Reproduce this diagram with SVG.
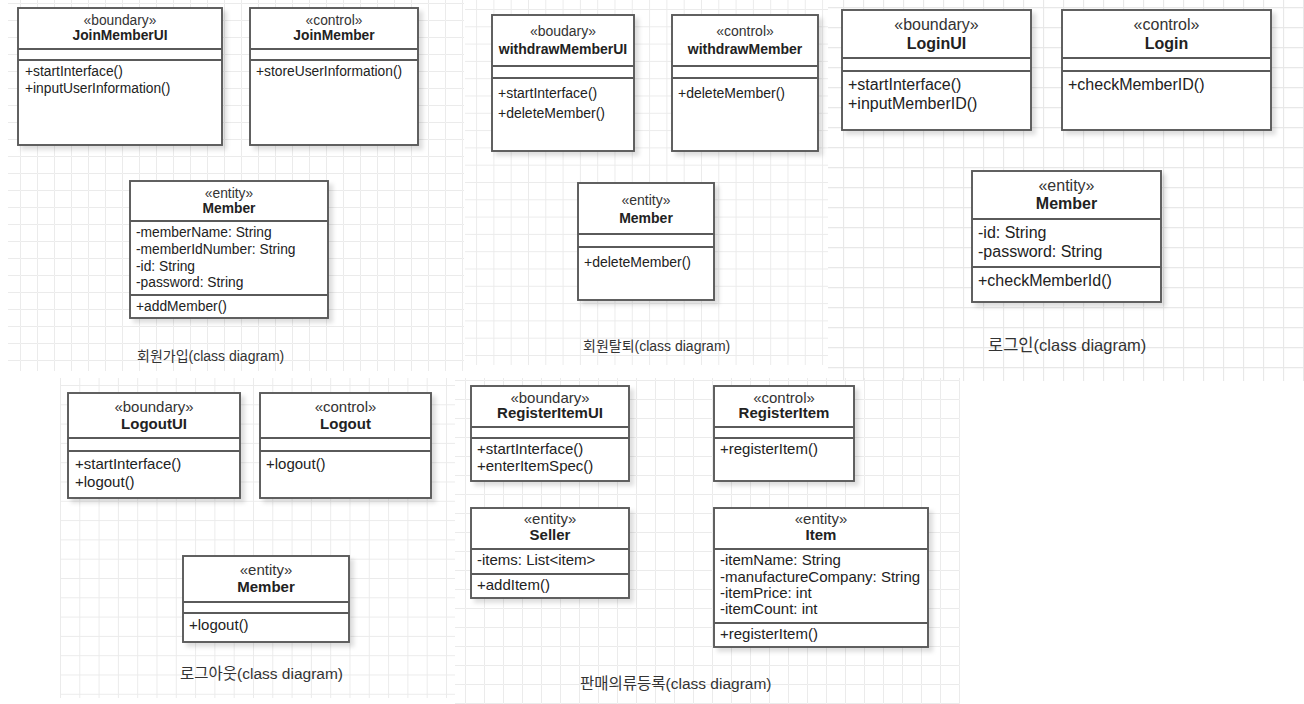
<svg xmlns="http://www.w3.org/2000/svg" width="1304" height="704" viewBox="0 0 1304 704">
<defs>
<pattern id="g1" patternUnits="userSpaceOnUse" width="17" height="17" x="3" y="3"><path d="M17 0.5H0.5V17" fill="none" stroke="#ebebeb" stroke-width="1"/></pattern>
<pattern id="g2" patternUnits="userSpaceOnUse" width="17.3" height="17.3" x="9" y="9"><path d="M17.3 0.5H0.5V17.3" fill="none" stroke="#ebebeb" stroke-width="1"/></pattern>
<pattern id="g3" patternUnits="userSpaceOnUse" width="20" height="20" x="3" y="7"><path d="M20 0.5H0.5V20" fill="none" stroke="#e8e8e8" stroke-width="1.3"/></pattern>
<pattern id="g4" patternUnits="userSpaceOnUse" width="19.3" height="19.3" x="60" y="385"><path d="M19.3 0.5H0.5V19.3" fill="none" stroke="#ebebeb" stroke-width="1"/></pattern>
<pattern id="g5" patternUnits="userSpaceOnUse" width="19" height="19" x="465" y="380"><path d="M19 0.5H0.5V19" fill="none" stroke="#ebebeb" stroke-width="1"/></pattern>
<filter id="sh" x="-10%" y="-10%" width="130%" height="130%"><feDropShadow dx="4" dy="4" stdDeviation="2" flood-color="#000" flood-opacity="0.13"/></filter>
</defs>
<style>
.box{fill:#fff;stroke:#5a5a5a;stroke-width:1.9;filter:url(#sh)}
.ln{stroke:#5a5a5a;stroke-width:1.9}
text{font-family:"Liberation Sans",Arial,sans-serif;fill:#222}
.st{fill:#333}
.nm{font-weight:bold}
.mid{text-anchor:middle}
.cap{font-family:"Liberation Sans","Noto Sans CJK KR",sans-serif;fill:#333}
.p1{font-size:13.8px}
.p2{font-size:14px}
.p3{font-size:16px}
.p4{font-size:15px}
.p5{font-size:15px}
</style>
<rect width="1304" height="704" fill="#fff"/>
<!-- panel backgrounds -->
<rect x="8" y="0" width="456" height="371" fill="url(#g1)"/>
<rect x="465" y="0" width="363" height="365" fill="url(#g2)"/>
<rect x="828" y="0" width="476" height="381" fill="url(#g3)"/>
<rect x="60" y="378" width="395" height="320" fill="url(#g4)"/>
<rect x="455" y="378" width="505" height="326" fill="url(#g5)"/>

<!-- Panel 1 -->
<g id="JoinMemberUI" class="p1">
<rect class="box" x="18" y="8" width="204" height="137"/>
<line class="ln" x1="18" y1="49" x2="222" y2="49"/><line class="ln" x1="18" y1="60" x2="222" y2="60"/>
<text class="st mid" x="120" y="25">«boundary»</text>
<text class="nm mid" x="120" y="40">JoinMemberUI</text>
<text x="25" y="76">+startInterface()</text>
<text x="25" y="93">+inputUserInformation()</text>
</g>
<g id="JoinMember" class="p1">
<rect class="box" x="250" y="8" width="168" height="137"/>
<line class="ln" x1="250" y1="49" x2="418" y2="49"/><line class="ln" x1="250" y1="60" x2="418" y2="60"/>
<text class="st mid" x="334" y="25">«control»</text>
<text class="nm mid" x="334" y="40">JoinMember</text>
<text x="256" y="76">+storeUserInformation()</text>
</g>
<g id="Member1" class="p1">
<rect class="box" x="130" y="181" width="198" height="137"/>
<line class="ln" x1="130" y1="221" x2="328" y2="221"/><line class="ln" x1="130" y1="295" x2="328" y2="295"/>
<text class="st mid" x="229" y="198">«entity»</text>
<text class="nm mid" x="229" y="213">Member</text>
<text x="136" y="237">-memberName: String</text>
<text x="136" y="254">-memberIdNumber: String</text>
<text x="136" y="271">-id: String</text>
<text x="136" y="287">-password: String</text>
<text x="136" y="311">+addMember()</text>
</g>
<text class="cap" x="137" y="361" font-size="14">회원가입(class diagram)</text>

<!-- Panel 2 -->
<g id="withdrawMemberUI" class="p2">
<rect class="box" x="492" y="15" width="142" height="136"/>
<line class="ln" x1="492" y1="66" x2="634" y2="66"/><line class="ln" x1="492" y1="78" x2="634" y2="78"/>
<text class="st mid" x="563" y="36">«boudary»</text>
<text class="nm mid" x="563" y="54">withdrawMemberUI</text>
<text x="498" y="98">+startInterface()</text>
<text x="498" y="118">+deleteMember()</text>
</g>
<g id="withdrawMember" class="p2">
<rect class="box" x="672" y="15" width="146" height="136"/>
<line class="ln" x1="672" y1="66" x2="818" y2="66"/><line class="ln" x1="672" y1="78" x2="818" y2="78"/>
<text class="st mid" x="745" y="36">«control»</text>
<text class="nm mid" x="745" y="54">withdrawMember</text>
<text x="678" y="98">+deleteMember()</text>
</g>
<g id="Member2" class="p2">
<rect class="box" x="578" y="183" width="136" height="117"/>
<line class="ln" x1="578" y1="234" x2="714" y2="234"/><line class="ln" x1="578" y1="247" x2="714" y2="247"/>
<text class="st mid" x="646" y="205">«entity»</text>
<text class="nm mid" x="646" y="223">Member</text>
<text x="584" y="267">+deleteMember()</text>
</g>
<text class="cap" x="583" y="351" font-size="14">회원탈퇴(class diagram)</text>

<!-- Panel 3 -->
<g id="LoginUI" class="p3">
<rect class="box" x="842" y="10" width="189" height="120"/>
<line class="ln" x1="842" y1="58" x2="1031" y2="58"/><line class="ln" x1="842" y1="71" x2="1031" y2="71"/>
<text class="st mid" x="936.5" y="30">«boundary»</text>
<text class="nm mid" x="936.5" y="49">LoginUI</text>
<text x="848" y="90">+startInterface()</text>
<text x="848" y="109">+inputMemberID()</text>
</g>
<g id="Login" class="p3">
<rect class="box" x="1062" y="10" width="209" height="120"/>
<line class="ln" x1="1062" y1="58" x2="1271" y2="58"/><line class="ln" x1="1062" y1="71" x2="1271" y2="71"/>
<text class="st mid" x="1166.5" y="30">«control»</text>
<text class="nm mid" x="1166.5" y="49">Login</text>
<text x="1068" y="90">+checkMemberID()</text>
</g>
<g id="Member3" class="p3">
<rect class="box" x="972" y="171" width="189" height="131"/>
<line class="ln" x1="972" y1="219" x2="1161" y2="219"/><line class="ln" x1="972" y1="267" x2="1161" y2="267"/>
<text class="st mid" x="1066.5" y="191">«entity»</text>
<text class="nm mid" x="1066.5" y="209">Member</text>
<text x="978" y="238">-id: String</text>
<text x="978" y="257">-password: String</text>
<text x="978" y="286">+checkMemberId()</text>
</g>
<text class="cap" x="988" y="351" font-size="16.5">로그인(class diagram)</text>

<!-- Panel 4 -->
<g id="LogoutUI" class="p4">
<rect class="box" x="68" y="393" width="172" height="105"/>
<line class="ln" x1="68" y1="438" x2="240" y2="438"/><line class="ln" x1="68" y1="451" x2="240" y2="451"/>
<text class="st mid" x="154" y="412">«boundary»</text>
<text class="nm mid" x="154" y="429">LogoutUI</text>
<text x="75" y="469">+startInterface()</text>
<text x="75" y="487">+logout()</text>
</g>
<g id="Logout" class="p4">
<rect class="box" x="260" y="393" width="171" height="105"/>
<line class="ln" x1="260" y1="438" x2="431" y2="438"/><line class="ln" x1="260" y1="451" x2="431" y2="451"/>
<text class="st mid" x="345.5" y="412">«control»</text>
<text class="nm mid" x="345.5" y="429">Logout</text>
<text x="266" y="469">+logout()</text>
</g>
<g id="Member4" class="p4">
<rect class="box" x="183" y="556" width="166" height="86"/>
<line class="ln" x1="183" y1="602" x2="349" y2="602"/><line class="ln" x1="183" y1="613" x2="349" y2="613"/>
<text class="st mid" x="266" y="575">«entity»</text>
<text class="nm mid" x="266" y="592">Member</text>
<text x="189" y="630">+logout()</text>
</g>
<text class="cap" x="180" y="679" font-size="15.5">로그아웃(class diagram)</text>

<!-- Panel 5 -->
<g id="RegisterItemUI" class="p5">
<rect class="box" x="471" y="386" width="158" height="95"/>
<line class="ln" x1="471" y1="427" x2="629" y2="427"/><line class="ln" x1="471" y1="438" x2="629" y2="438"/>
<text class="st mid" x="550" y="403">«boundary»</text>
<text class="nm mid" x="550" y="418">RegisterItemUI</text>
<text x="477" y="454">+startInterface()</text>
<text x="477" y="471">+enterItemSpec()</text>
</g>
<g id="RegisterItem" class="p5">
<rect class="box" x="714" y="386" width="140" height="95"/>
<line class="ln" x1="714" y1="427" x2="854" y2="427"/><line class="ln" x1="714" y1="438" x2="854" y2="438"/>
<text class="st mid" x="784" y="403">«control»</text>
<text class="nm mid" x="784" y="418">RegisterItem</text>
<text x="720" y="454">+registerItem()</text>
</g>
<g id="Seller" class="p5">
<rect class="box" x="471" y="508" width="158" height="90"/>
<line class="ln" x1="471" y1="549" x2="629" y2="549"/><line class="ln" x1="471" y1="574" x2="629" y2="574"/>
<text class="st mid" x="550" y="524">«entity»</text>
<text class="nm mid" x="550" y="540">Seller</text>
<text x="477" y="565">-items: List&lt;item&gt;</text>
<text x="477" y="590">+addItem()</text>
</g>
<g id="Item" class="p5">
<rect class="box" x="714" y="508" width="214" height="139"/>
<line class="ln" x1="714" y1="549" x2="928" y2="549"/><line class="ln" x1="714" y1="623" x2="928" y2="623"/>
<text class="st mid" x="821" y="524">«entity»</text>
<text class="nm mid" x="821" y="540">Item</text>
<text x="720" y="565">-itemName: String</text>
<text x="720" y="582">-manufactureCompany: String</text>
<text x="720" y="598">-itemPrice: int</text>
<text x="720" y="614">-itemCount: int</text>
<text x="720" y="639">+registerItem()</text>
</g>
<text class="cap" x="580" y="689" font-size="15.5">판매의류등록(class diagram)</text>
</svg>
